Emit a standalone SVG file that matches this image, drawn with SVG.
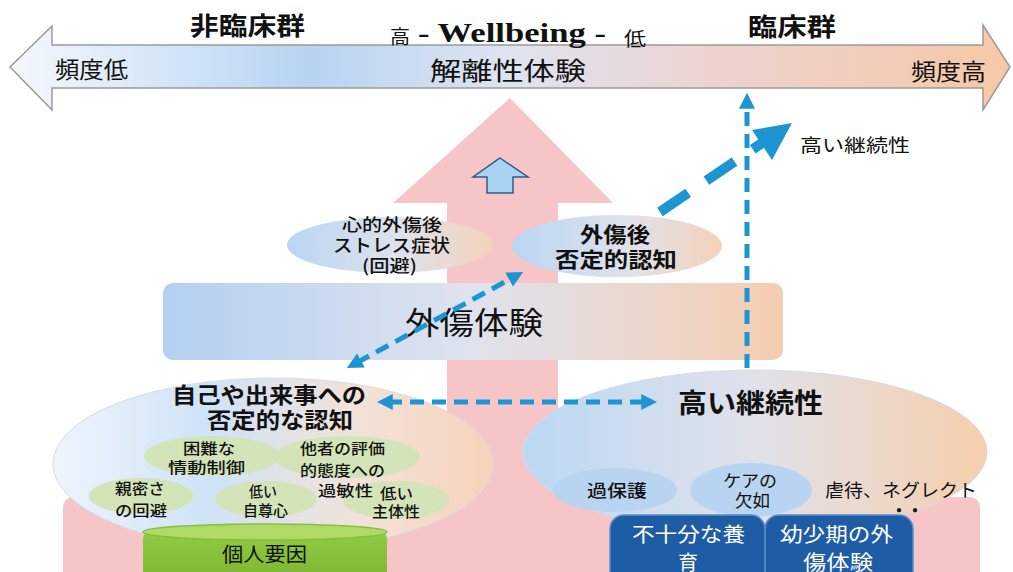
<svg xmlns="http://www.w3.org/2000/svg" width="1013" height="572" viewBox="0 0 1013 572">
<defs>
<linearGradient id="gTop" x1="0" y1="0" x2="1" y2="0">
<stop offset="0" stop-color="#f4f8fd"/>
<stop offset="0.3" stop-color="#b7d4f2"/>
<stop offset="0.5" stop-color="#dfe4ef"/>
<stop offset="0.7" stop-color="#ecd3d0"/>
<stop offset="1" stop-color="#f6c8a6"/>
</linearGradient>
<linearGradient id="gBand" x1="0" y1="0" x2="1" y2="0">
<stop offset="0" stop-color="#b3d0f1"/>
<stop offset="0.5" stop-color="#dfe3ee"/>
<stop offset="1" stop-color="#f5cdb0"/>
</linearGradient>
<linearGradient id="gEll" x1="0" y1="0" x2="1" y2="0">
<stop offset="0" stop-color="#b9d6f2"/>
<stop offset="0.55" stop-color="#dfe2ec"/>
<stop offset="1" stop-color="#f4d2b9"/>
</linearGradient>
<linearGradient id="gLeft" x1="0" y1="0" x2="1" y2="0">
<stop offset="0" stop-color="#eef5fc"/>
<stop offset="0.35" stop-color="#cfe3f7"/>
<stop offset="0.7" stop-color="#f3e2d8"/>
<stop offset="1" stop-color="#f6d3ba"/>
</linearGradient>
<linearGradient id="gRight" x1="0" y1="0" x2="1" y2="0">
<stop offset="0" stop-color="#bcd8f4"/>
<stop offset="0.5" stop-color="#e0e2ea"/>
<stop offset="1" stop-color="#f6ceac"/>
</linearGradient>
<linearGradient id="gGreen" x1="0" y1="0" x2="0" y2="1">
<stop offset="0" stop-color="#92cb45"/>
<stop offset="1" stop-color="#78b22e"/>
</linearGradient>
<marker id="ah" viewBox="0 0 10 10" refX="3" refY="5" markerUnits="userSpaceOnUse" markerWidth="16" markerHeight="16" orient="auto-start-reverse">
<path d="M0,0 L10,5 L0,10 z" fill="#1b96d3"/>
</marker>
<style>
.jp{font-family:"Noto Sans CJK JP","Noto Sans CJK SC",sans-serif;fill:#111}
.b{font-weight:bold}
.sm{font-size:15px;font-weight:500}
.wt{fill:#fff}
.dash{stroke:#1b96d3;stroke-width:5;fill:none;stroke-dasharray:14 8}
.green{fill:#d3e4b9}
.lblue{fill:#b8d4f0}
.dblue{fill:#1f5ca6;stroke:#5d8cc6;stroke-width:1.5}
</style>
</defs>
<rect width="1013" height="572" fill="#fff"/>

<g id="scale-arrow">
<polygon points="10,67 52,26 52,45 983,45 983,25 1010,67 983,110 983,88 52,88 52,110" fill="url(#gTop)" stroke="#9a9a9a" stroke-width="1.5"/>
<text class="jp b" x="190" y="35" font-size="25" textLength="115" lengthAdjust="spacingAndGlyphs">非臨床群</text>
<text class="jp b" x="748" y="36" font-size="25" textLength="88" lengthAdjust="spacingAndGlyphs">臨床群</text>
<text class="jp" x="390" y="44" font-size="19" textLength="20" lengthAdjust="spacingAndGlyphs">高</text>
<text x="418" y="42" font-family="Liberation Serif, serif" font-weight="bold" font-size="27" fill="#111" textLength="188" lengthAdjust="spacingAndGlyphs">- Wellbeing -</text>
<text class="jp" x="624" y="46" font-size="19" textLength="22" lengthAdjust="spacingAndGlyphs">低</text>
<text class="jp" x="55" y="78" font-size="23" textLength="73" lengthAdjust="spacingAndGlyphs">頻度低</text>
<text class="jp" x="430" y="80" font-size="25" textLength="156" lengthAdjust="spacingAndGlyphs">解離性体験</text>
<text class="jp" x="911" y="80" font-size="23" textLength="75" lengthAdjust="spacingAndGlyphs">頻度高</text>
</g>

<g id="pink-arrow">
<polygon points="510,98 613,203 558,203 558,500 447,500 447,203 393,203" fill="#f6c5c7"/>
<rect x="63" y="497" width="917" height="95" rx="10" fill="#f6c5c7"/>
<polygon points="500,158 528,177 513,177 513,193 487,193 487,177 473,177" fill="#a9d3f3" stroke="#2e5c8a" stroke-width="1.5"/>
</g>

<g id="ptsd">
<ellipse cx="390" cy="245" rx="103" ry="28" fill="url(#gEll)"/>
<text class="jp" x="342" y="231" font-size="17" font-weight="500" textLength="100" lengthAdjust="spacingAndGlyphs">心的外傷後</text>
<text class="jp" x="333" y="252" font-size="18" font-weight="500" textLength="117" lengthAdjust="spacingAndGlyphs">ストレス症状</text>
<text class="jp" x="362" y="272" font-size="17" font-weight="500" textLength="55" lengthAdjust="spacingAndGlyphs">(回避)</text>
</g>

<g id="post-cognition">
<ellipse cx="617" cy="246" rx="105" ry="31" fill="url(#gEll)"/>
<text class="jp b" x="580" y="242" font-size="21" textLength="70" lengthAdjust="spacingAndGlyphs">外傷後</text>
<text class="jp b" x="555" y="267" font-size="21" textLength="122" lengthAdjust="spacingAndGlyphs">否定的認知</text>
</g>

<g id="trauma-band">
<rect x="163" y="283" width="620" height="77" rx="10" fill="url(#gBand)"/>
<text class="jp" x="405" y="334" font-size="31" textLength="138" lengthAdjust="spacingAndGlyphs">外傷体験</text>
</g>

<g id="individual">
<ellipse cx="273" cy="464" rx="220" ry="86" fill="url(#gLeft)" stroke="#d6dce6" stroke-width="1"/>
<text class="jp b" x="172" y="403" font-size="22" textLength="194" lengthAdjust="spacingAndGlyphs">自己や出来事への</text>
<text class="jp b" x="207" y="428" font-size="22" textLength="146" lengthAdjust="spacingAndGlyphs">否定的な認知</text>
<ellipse class="green" cx="212" cy="456" rx="68" ry="20"/>
<ellipse class="green" cx="347" cy="457" rx="73" ry="21"/>
<ellipse class="green" cx="141" cy="496" rx="52" ry="18"/>
<ellipse class="green" cx="266" cy="499" rx="51" ry="18"/>
<ellipse class="green" cx="396" cy="500" rx="53" ry="19"/>
<text class="jp sm" x="183" y="454" textLength="52" lengthAdjust="spacingAndGlyphs">困難な</text>
<text class="jp sm" x="168" y="473" textLength="77" lengthAdjust="spacingAndGlyphs">情動制御</text>
<text class="jp sm" x="300" y="454" textLength="85" lengthAdjust="spacingAndGlyphs">他者の評価</text>
<text class="jp sm" x="300" y="476" textLength="85" lengthAdjust="spacingAndGlyphs">的態度への</text>
<text class="jp sm" x="318" y="496" textLength="55" lengthAdjust="spacingAndGlyphs">過敏性</text>
<text class="jp sm" x="115" y="494" textLength="50" lengthAdjust="spacingAndGlyphs">親密さ</text>
<text class="jp sm" x="115" y="516" textLength="52" lengthAdjust="spacingAndGlyphs">の回避</text>
<text class="jp sm" x="249" y="497" textLength="28" lengthAdjust="spacingAndGlyphs">低い</text>
<text class="jp sm" x="243" y="516" textLength="45" lengthAdjust="spacingAndGlyphs">自尊心</text>
<text class="jp sm" x="380" y="499" textLength="33" lengthAdjust="spacingAndGlyphs">低い</text>
<text class="jp sm" x="372" y="517" textLength="48" lengthAdjust="spacingAndGlyphs">主体性</text>
</g>

<g id="personal-factor">
<rect x="143" y="531" width="244" height="60" rx="8" fill="url(#gGreen)"/>
<ellipse cx="265" cy="532" rx="122" ry="8" fill="#b0da68" stroke="#86c03a" stroke-width="1.5"/>
<text class="jp" x="222" y="562" font-size="20" textLength="85" lengthAdjust="spacingAndGlyphs">個人要因</text>
</g>

<g id="continuity">
<ellipse cx="755" cy="452" rx="232" ry="82" fill="url(#gRight)" stroke="#d6dce6" stroke-width="1"/>
<text class="jp b" x="678" y="413" font-size="27" textLength="145" lengthAdjust="spacingAndGlyphs">高い継続性</text>
<ellipse class="lblue" cx="615" cy="490" rx="62" ry="22"/>
<ellipse class="lblue" cx="751" cy="490" rx="61" ry="27"/>
<text class="jp" x="587" y="497" font-size="17" font-weight="500" textLength="60" lengthAdjust="spacingAndGlyphs">過保護</text>
<text class="jp" x="723" y="487" font-size="17" textLength="54" lengthAdjust="spacingAndGlyphs">ケアの</text>
<text class="jp" x="735" y="507" font-size="17" textLength="35" lengthAdjust="spacingAndGlyphs">欠如</text>
<text class="jp" x="825" y="497" font-size="18" textLength="152" lengthAdjust="spacingAndGlyphs">虐待、ネグレクト</text>
</g>

<g id="parenting">
<rect class="dblue" x="610" y="515" width="155" height="75" rx="14"/>
<text class="jp wt" x="632" y="542" font-size="20" textLength="113" lengthAdjust="spacingAndGlyphs">不十分な養</text>
<text class="jp wt" x="678" y="570" font-size="20">育</text>
</g>

<g id="childhood-trauma">
<rect class="dblue" x="765" y="515" width="148" height="75" rx="14"/>
<text class="jp wt" x="780" y="542" font-size="20" textLength="113" lengthAdjust="spacingAndGlyphs">幼少期の外</text>
<text class="jp wt" x="803" y="570" font-size="20" textLength="70" lengthAdjust="spacingAndGlyphs">傷体験</text>
</g>

<g id="ellipsis-dots">
<text class="jp b" x="891" y="517" font-size="17" textLength="32" lengthAdjust="spacingAndGlyphs">・・</text>
</g>

<g id="high-continuity-label">
<text class="jp" x="800" y="152" font-size="18" textLength="110" lengthAdjust="spacingAndGlyphs">高い継続性</text>
</g>

<g id="connectors">
<line class="dash" x1="356.7" y1="362.7" x2="513.3" y2="277.3" marker-start="url(#ah)" marker-end="url(#ah)"/>
<line class="dash" x1="388" y1="402" x2="646" y2="402" marker-start="url(#ah)" marker-end="url(#ah)"/>
<line class="dash" x1="747" y1="368" x2="747" y2="104" stroke-dasharray="22 11" marker-end="url(#ah)"/>
<line x1="660" y1="212" x2="762" y2="143" stroke="#1b96d3" stroke-width="10" stroke-dasharray="34 22"/>
<polygon points="752,130 792,123 772,160" fill="#1b96d3"/>
</g>
</svg>
